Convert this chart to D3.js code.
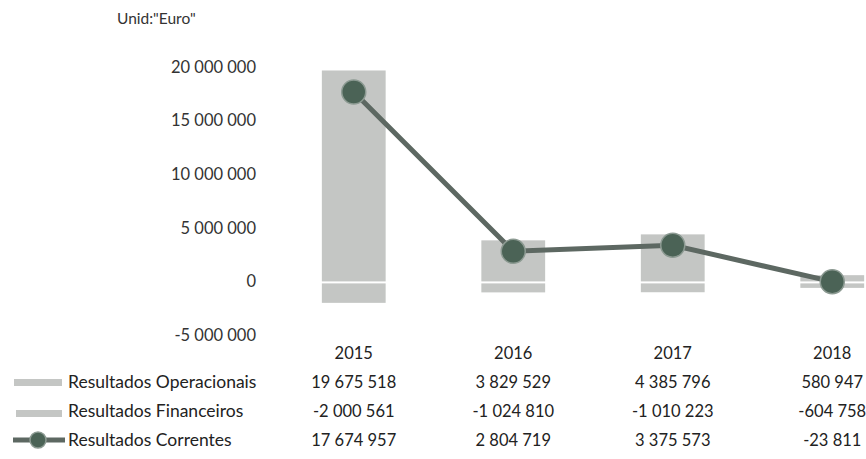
<!DOCTYPE html>
<html><head><meta charset="utf-8">
<script src="https://cdn.jsdelivr.net/npm/d3@7"></script>
<style>
body{margin:0;background:#fff;}
svg{display:block;font-family:Lato,"Open Sans",sans-serif;}
</style></head>
<body><svg id="c" width="866" height="459"></svg>
<script>
const categories = ["2015","2016","2017","2018"];
const operacionais = [19675518, 3829529, 4385796, 580947];
const financeiros = [-2000561, -1024810, -1010223, -604758];
const correntes = [17674957, 2804719, 3375573, -23811];
const yTicks = [-5000000, 0, 5000000, 10000000, 15000000, 20000000];
const seriesNames = ["Resultados Operacionais","Resultados Financeiros","Resultados Correntes"];
const unitLabel = 'Unid:"Euro"';

const loc = d3.formatLocale({decimal:",", thousands:" ", grouping:[3], currency:["",""], minus:"-"});
const fmt = loc.format(",d");

const svg = d3.select("#c");
const x = d3.scaleBand().domain(categories).range([274, 912]).paddingInner(0.6).paddingOuter(0.3);
const y = d3.scaleLinear().domain([-5000000, 20000000]).range([335, 67]);
const cx = d => x(d) + x.bandwidth()/2;

const barFill = "#c4c6c4";
const lineCol = "#5d6862";
const markFill = "#4b6356";
const markStroke = "#8c9a92";
const textCol = "#222";

// unit label
svg.append("text").attr("x",117).attr("y",24).attr("font-size",15.5).attr("fill","#333").text(unitLabel);

// y axis
const yAxis = d3.axisLeft(y).tickValues(yTicks).tickSize(0).tickPadding(0)
  .tickFormat(d => fmt(d));
const ga = svg.append("g").attr("transform","translate(256,0)").call(yAxis);
ga.select(".domain").remove();
ga.selectAll("text").attr("font-size",16.5).attr("fill","#333").attr("font-family","Lato,'Open Sans',sans-serif");

// bars
const bw = x.bandwidth();
svg.append("g").selectAll("rect").data(categories).join("rect")
  .attr("x", d => x(d)).attr("width", bw)
  .attr("y", (d,i) => y(operacionais[i])).attr("height", (d,i) => y(0) - y(operacionais[i]))
  .attr("fill", barFill);
svg.append("g").selectAll("rect").data(categories).join("rect")
  .attr("x", d => x(d)).attr("width", bw)
  .attr("y", (d,i) => y(0) + 2).attr("height", (d,i) => Math.max(0, y(financeiros[i]) - y(0) - 2))
  .attr("fill", barFill);

// line
const line = d3.line().x((d,i) => cx(categories[i])).y(d => y(d));
svg.append("path").datum(correntes).attr("d", line).attr("fill","none")
  .attr("stroke", lineCol).attr("stroke-width", 5);
svg.append("g").selectAll("circle").data(correntes).join("circle")
  .attr("cx", (d,i) => cx(categories[i])).attr("cy", d => y(d)).attr("r", 12)
  .attr("fill", markFill).attr("stroke", markStroke).attr("stroke-width", 1.5);

// data table
const tbl = svg.append("g").attr("font-size",16.5).attr("fill",textCol);
tbl.selectAll("text.yr").data(categories).join("text")
  .attr("x", d => cx(d)).attr("y", 359).attr("text-anchor","middle").text(d => d);
const rows = [operacionais, financeiros, correntes];
const rowY = [388, 417, 446];
rows.forEach((vals, r) => {
  tbl.append("g").selectAll("text").data(vals).join("text")
    .attr("x", (d,i) => cx(categories[i])).attr("y", rowY[r]).attr("text-anchor","middle")
    .text(d => fmt(d));
  tbl.append("text").attr("x", 68).attr("y", rowY[r]).attr("font-size",17.5).text(seriesNames[r]);
});
// legend keys
svg.append("rect").attr("x",14).attr("y",379).attr("width",48).attr("height",7).attr("fill",barFill);
svg.append("rect").attr("x",16).attr("y",410).attr("width",46).attr("height",7).attr("fill",barFill);
svg.append("line").attr("x1",13).attr("x2",65).attr("y1",440).attr("y2",440).attr("stroke",lineCol).attr("stroke-width",5);
svg.append("circle").attr("cx",38).attr("cy",440).attr("r",8).attr("fill",markFill).attr("stroke",markStroke).attr("stroke-width",1.5);
</script></body></html>
